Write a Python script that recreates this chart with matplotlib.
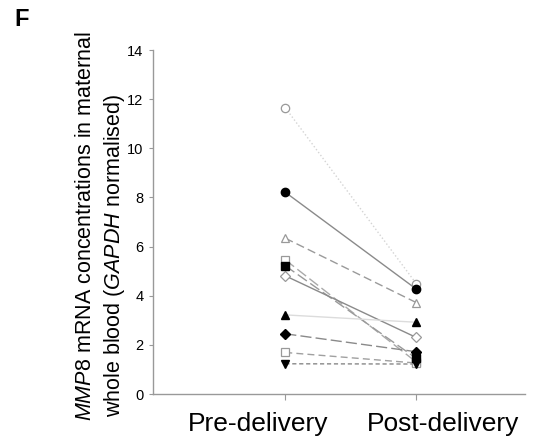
import matplotlib
matplotlib.use("Agg")
import matplotlib.pyplot as plt
import matplotlib.transforms as mtransforms

plt.rcParams['font.family'] = ['Liberation Sans', 'DejaVu Sans']
plt.rcParams['mathtext.fontset'] = 'custom'
plt.rcParams['mathtext.rm'] = 'Liberation Sans'
plt.rcParams['mathtext.it'] = 'Liberation Sans:italic'

# values, one entry per subject
pre_delivery = [11.65, 8.21, 6.34, 5.46, 5.22, 4.81, 3.22, 2.45, 1.69, 1.23]
post_delivery = [4.49, 4.27, 3.72, 1.30, 1.45, 2.30, 2.92, 1.72, 1.26, 1.22]
markers = ['o', 'o', '^', 's', 's', 'D', '^', 'D', 's', 'v']
filled = [False, True, False, False, True, False, True, True, False, True]
line_styles = [':', '-', (0, (6, 3)), (0, (8, 3)), (0, (8, 3)), '-', '-',
               (0, (8, 3)), (0, (5, 3)), (0, (3, 2))]
line_colors = ['#d4d4d4', '#8a8a8a', '#9a9a9a', '#aaaaaa', '#9a9a9a', '#8a8a8a',
               '#dcdcdc', '#8a8a8a', '#a0a0a0', '#888888']
groups = ['Pre-delivery', 'Post-delivery']
y_ticks = [0, 2, 4, 6, 8, 10, 12, 14]

fig = plt.figure(figsize=(5.39, 4.42), dpi=100)
ax = fig.add_axes([153 / 539, 48 / 442, 372 / 539, 344 / 442])

xs = [1, 2]
for i in range(len(pre_delivery)):
    ax.plot(xs, [pre_delivery[i], post_delivery[i]], linestyle=line_styles[i],
            color=line_colors[i], lw=1.0, zorder=1)
    ms = 4.8 if markers[i] == 'D' else (6 if markers[i] == 'o' else 5.5)
    if filled[i]:
        ax.plot(xs, [pre_delivery[i], post_delivery[i]], linestyle='none',
                marker=markers[i], ms=ms, mfc='black', mec='black', zorder=3)
    else:
        ax.plot(xs, [pre_delivery[i], post_delivery[i]], linestyle='none',
                marker=markers[i], ms=ms, mfc='white', mec='#999999', mew=0.9, zorder=2)

ax.set_xlim(-0.01, 2.83)
ax.set_ylim(0, 14)
ax.set_yticks(y_ticks)
ax.set_xticks(xs)
ax.set_xticklabels(groups, fontsize=19)
ax.tick_params(axis='y', labelsize=10.5, length=3, color='#999999', pad=4)
ax.tick_params(axis='x', length=4, color='#999999', pad=9)
# the group labels sit spread apart from their ticks in the original
shifts = [-27, 27]
for lab, dx in zip(ax.get_xticklabels(), shifts):
    lab.set_transform(lab.get_transform() +
                      mtransforms.ScaledTranslation(dx / 100, 0, fig.dpi_scale_trans))
for side in ['top', 'right']:
    ax.spines[side].set_visible(False)
for side in ['left', 'bottom']:
    ax.spines[side].set_color('#999999')
    ax.spines[side].set_linewidth(1.0)

fig.text(86 / 539, 1 - 226 / 442, r'$\it{MMP8}$ mRNA concentrations in maternal',
         rotation=90, ha='center', va='center', fontsize=15.5)
fig.text(115 / 539, 1 - 255 / 442, r'whole blood ($\it{GAPDH}$ normalised)',
         rotation=90, ha='center', va='center', fontsize=15.5)
fig.text(14 / 539, 1 - 20 / 442, 'F', fontsize=17, fontweight='bold',
         ha='left', va='center')

fig.savefig('out.png', dpi=100)
